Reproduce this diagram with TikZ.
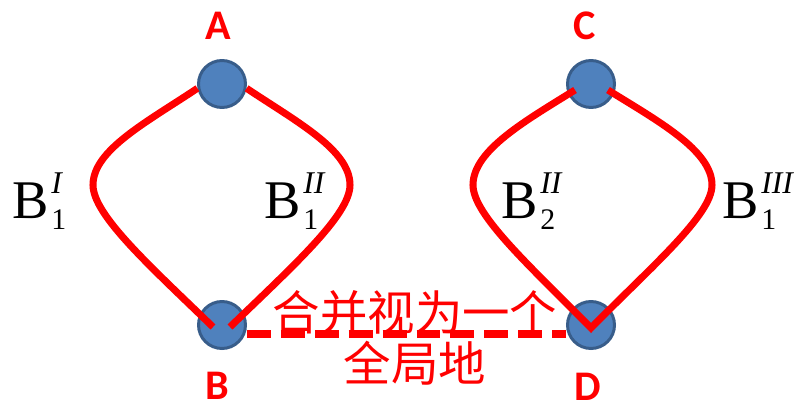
\documentclass[tikz,border=0pt]{standalone}
\usepackage{fontspec}
\setmainfont{Liberation Serif}
\newfontfamily\labfont{Carlito}
\newfontfamily\cjkfont{Noto Sans CJK SC}
\usetikzlibrary{calc}
\definecolor{nodeblue}{HTML}{4F81BD}
\definecolor{nodeedge}{HTML}{385D8A}
\definecolor{pred}{HTML}{FF0000}
\newcommand\branchlab[2]{B\kern1.5pt\rlap{\raisebox{-6.8pt}{\fontsize{17}{17}\selectfont #1}}\raisebox{14pt}{\fontsize{18}{18}\selectfont\itshape #2}}
\begin{document}
\begin{tikzpicture}[x=0.02cm,y=-0.02cm,
  vert/.style={circle,fill=nodeblue,draw=nodeedge,line width=1.7pt,minimum size=0.94cm,inner sep=0pt},
  vlabel/.style={text=pred,font=\labfont\bfseries\fontsize{24}{24}\selectfont,inner sep=0pt},
  blabel/.style={anchor=base west,inner sep=0pt,font=\fontsize{31}{31}\selectfont},
  edge/.style={draw=pred,line width=4pt},
  merge/.style={draw=pred,line width=4.5pt,dash pattern=on 13.6pt off 5.7pt},
  note/.style={text=pred,font=\cjkfont\fontsize{27}{27}\selectfont,inner sep=0pt}]
\useasboundingbox (0,0) rectangle (795,406);
% vertices
\node[vert] (A) at (222,84) {};
\node[vert] (B) at (222,325) {};
\node[vert] (C) at (591,84) {};
\node[vert] (D) at (591,325) {};
% vertex labels
\node[vlabel] (lA) at (218,26) {A};
\node[vlabel] (lB) at (217,386) {B};
\node[vlabel] (lC) at (585,26) {C};
\node[vlabel] (lD) at (588,387) {D};
% dashed merge line
\coordinate (dl) at (0,334);
\draw[merge] (B.east |- dl) -- (D.west |- dl);
% loop A-B
\coordinate (bl) at ($(B)+(-9,2)$);
\coordinate (br) at ($(B)+(8,2)$);
\draw[edge] (A.190) .. controls (147,122) and (93,150) .. (93,185)
  .. controls (93,215) and (150,266) .. (bl);
\draw[edge] (A.350) .. controls (297,122) and (350,150) .. (350,185)
  .. controls (350,215) and (293,266) .. (br);
% loop C-D
\coordinate (cl) at ($(C)+(-16,6)$);
\coordinate (cr) at ($(C)+(17,6)$);
\coordinate (dv) at ($(D)+(0,3)$);
\draw[edge,line join=miter] (cl) .. controls (527,120) and (473,150) .. (473,185)
  .. controls (473,215) and (530,266) .. (dv)
  .. controls (652,266) and (712,215) .. (712,185)
  .. controls (712,150) and (656,120) .. (cr);
% branch labels
\node[blabel] (b1) at (12,218) {\branchlab{1}{I}};
\node[blabel] (b2) at (264,218) {\branchlab{1}{II}};
\node[blabel] (b3) at (501,218) {\branchlab{2}{II}};
\node[blabel] (b4) at (722,218) {\branchlab{1}{III}};
% note
\node[note] (t1) at (415,313) {合并视为一个};
\node[note] (t2) at (415,363) {全局地};
\end{tikzpicture}
\end{document}
